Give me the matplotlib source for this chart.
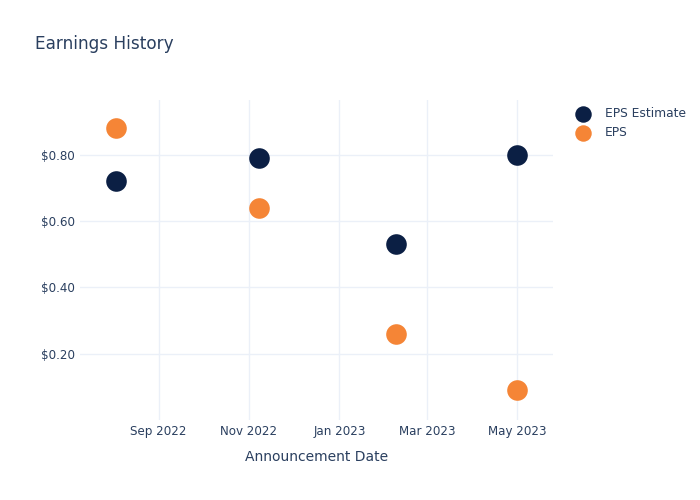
import matplotlib.pyplot as plt
import matplotlib.dates as mdates
import numpy as np

# data
dates = np.array(['2022-08-03', '2022-11-08', '2023-02-08', '2023-05-01'], dtype='datetime64[D]')
eps_estimate = [0.72, 0.79, 0.53, 0.80]
eps_actual = [0.88, 0.64, 0.26, 0.09]
y_ticks = [0.20, 0.40, 0.60, 0.80]

text_color = '#2a3f5f'
grid_color = '#ebf0f8'

fig = plt.figure(figsize=(7, 5), dpi=100)
ax = fig.add_axes([0.1143, 0.16, 0.6757, 0.64])

ax.scatter(dates, eps_estimate, s=220, color='#0b1f44', label='EPS Estimate', zorder=3, linewidths=0)
ax.scatter(dates, eps_actual, s=220, color='#f58536', label='EPS', zorder=3, linewidths=0)

ax.set_xlim(np.datetime64('2022-07-10'), np.datetime64('2023-05-25'))
ax.set_ylim(0.0, 0.966)

ax.xaxis.set_major_locator(mdates.MonthLocator(bymonth=[1, 3, 5, 9, 11]))
ax.xaxis.set_major_formatter(mdates.DateFormatter('%b %Y'))
ax.set_yticks(y_ticks)
ax.set_yticklabels([f'${v:.2f}' for v in y_ticks])

ax.grid(True, color=grid_color, linewidth=1)
ax.set_axisbelow(True)
for s in ax.spines.values():
    s.set_visible(False)
ax.tick_params(length=0, labelsize=8.6, colors=text_color, pad=3.5)

ax.set_xlabel('Announcement Date', fontsize=10, color=text_color, labelpad=9)
fig.text(0.05, 0.912, 'Earnings History', fontsize=12.2, color=text_color, va='center')

ax.legend(loc='upper left', bbox_to_anchor=(1.028, 0.993), frameon=False, fontsize=8.8,
          labelcolor=text_color, markerscale=0.8, handletextpad=0.75, borderaxespad=0,
          labelspacing=0.5)

fig.savefig('out.png', dpi=100, facecolor='white')
